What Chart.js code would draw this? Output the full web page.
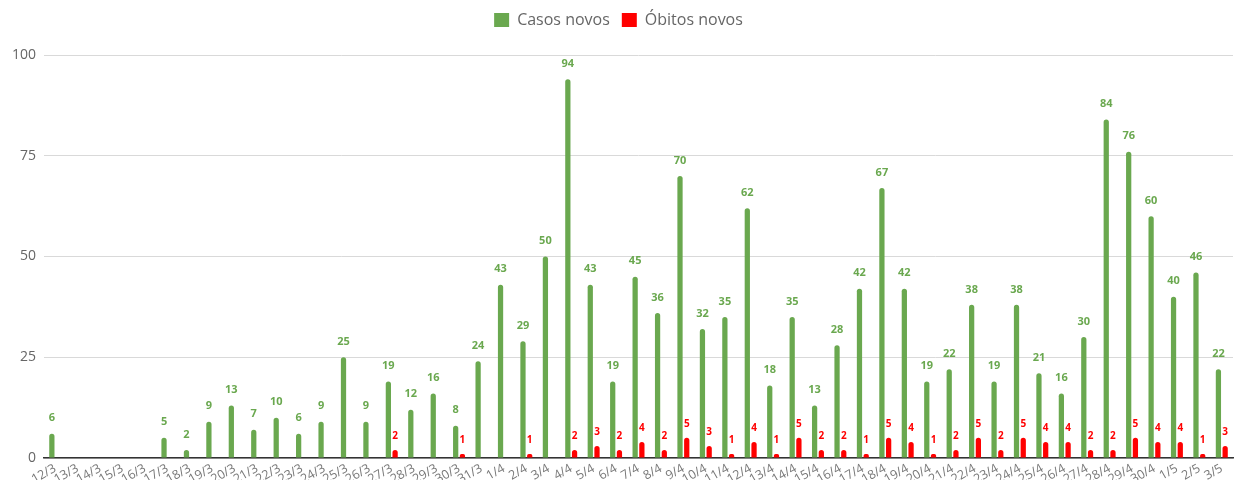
<!DOCTYPE html>
<html>
<head>
<meta charset="utf-8">
<script src="https://cdn.jsdelivr.net/npm/chart.js@4/dist/chart.umd.min.js"></script>
<style>
  html, body { margin: 0; padding: 0; background: #fff; }
  #wrap { width: 1241px; height: 480px; }
</style>
</head>
<body>
<div id="wrap"><canvas id="myChart"></canvas></div>
<script>
// dias (eixo x)
var dias = ['12/3','13/3','14/3','15/3','16/3','17/3','18/3','19/3','20/3','21/3','22/3','23/3','24/3','25/3','26/3','27/3','28/3','29/3','30/3','31/3',
  '1/4','2/4','3/4','4/4','5/4','6/4','7/4','8/4','9/4','10/4','11/4','12/4','13/4','14/4','15/4','16/4','17/4','18/4','19/4','20/4',
  '21/4','22/4','23/4','24/4','25/4','26/4','27/4','28/4','29/4','30/4','1/5','2/5','3/5'];
var casosNovos = [6,0,0,0,0,5,2,9,13,7,10,6,9,25,9,19,12,16,8,24,
  43,29,50,94,43,19,45,36,70,32,35,62,18,35,13,28,42,67,42,19,
  22,38,19,38,21,16,30,84,76,60,40,46,22];
var obitosNovos = [0,0,0,0,0,0,0,0,0,0,0,0,0,0,0,2,0,0,1,0,
  0,1,0,2,3,2,4,2,5,3,1,4,1,5,2,2,1,5,4,1,
  2,5,2,5,4,4,2,2,5,4,4,1,3];
var yTicks = [0, 25, 50, 75, 100];

// rotulos em cima das barras
var rotulos = {
  id: 'rotulos',
  afterInit: function(chart) {
    // mais espaco abaixo da legenda
    var fit = chart.legend.fit;
    chart.legend.fit = function() {
      fit.call(this);
      this.height += 17;
    };
  },
  afterDatasetsDraw: function(chart) {
    var c = chart.ctx;
    chart.data.datasets.forEach(function(ds, i) {
      var meta = chart.getDatasetMeta(i);
      c.save();
      c.fillStyle = ds.backgroundColor;
      c.font = 'bold ' + (i === 0 ? 11 : 10) + 'px "Open Sans"';
      c.textAlign = 'center';
      c.textBaseline = 'bottom';
      meta.data.forEach(function(bar, j) {
        var v = ds.data[j];
        if (!v) return;
        c.fillText(v, bar.x, bar.y - (i === 0 ? 10 : 9));
      });
      c.restore();
    });
  }
};

var ctx = document.getElementById('myChart');
var myChart = new Chart(ctx, {
  type: 'bar',
  data: {
    labels: dias,
    datasets: [
      {
        label: 'Casos novos',
        data: casosNovos,
        backgroundColor: '#6aa84f',
        borderRadius: { topLeft: 3, topRight: 3 },
        borderSkipped: 'bottom'
      },
      {
        label: 'Óbitos novos',
        data: obitosNovos,
        backgroundColor: '#ff0000',
        borderRadius: { topLeft: 3, topRight: 3 },
        borderSkipped: 'bottom'
      }
    ]
  },
  plugins: [rotulos],
  options: {
    responsive: true,
    maintainAspectRatio: false,
    animation: false,
    categoryPercentage: 0.6,
    barPercentage: 0.78,
    layout: { padding: { left: 4, right: 8, top: 0, bottom: 0 } },
    plugins: {
      legend: {
        position: 'top',
        labels: {
          boxWidth: 15,
          boxHeight: 14,
          padding: 12,
          color: '#666',
          font: { family: '"Open Sans"', size: 16 }
        }
      },
      tooltip: { enabled: false }
    },
    scales: {
      x: {
        grid: { display: false, drawTicks: false },
        border: { color: '#333', width: 1.5 },
        afterFit: function(axis) { axis.height = 22; },
        ticks: {
          color: '#777',
          font: { family: '"Open Sans"', size: 12.5 },
          minRotation: 30,
          maxRotation: 30,
          autoSkip: false,
          padding: 3
        }
      },
      y: {
        min: 0,
        max: 100,
        afterBuildTicks: function(axis) {
          axis.ticks = yTicks.map(function(v) { return { value: v }; });
        },
        border: { display: false },
        grid: { color: '#d9d9d9', drawTicks: false },
        ticks: {
          color: '#666',
          padding: 8,
          font: { family: '"Open Sans"', size: 14 }
        }
      }
    }
  }
});
</script>
</body>
</html>
